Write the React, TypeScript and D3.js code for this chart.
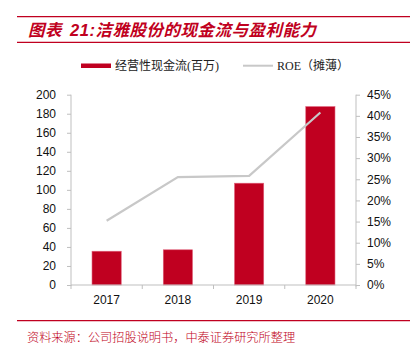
import React, { useEffect, useRef } from 'react';
import * as d3 from 'd3';

const years = ['2017', '2018', '2019', '2020'];
const cashFlow = [35.5, 37, 107, 187.5];
const roe = [15.2, 25.5, 25.8, 40.8];
const leftTicks = [0, 20, 40, 60, 80, 100, 120, 140, 160, 180, 200];
const rightTicks = [0, 5, 10, 15, 20, 25, 30, 35, 40, 45];

const titleText = '图表 21:洁雅股份的现金流与盈利能力';
const sourceText = '资料来源：公司招股说明书，中泰证券研究所整理';
const seriesNames = ['经营性现金流(百万)', 'ROE（摊薄）'];

const W = 415;
const H = 350;
const red = '#c00020';
const gray = '#c8c8c8';
const axisColor = '#bfbfbf';

export default function App() {
  const ref = useRef<SVGSVGElement>(null);

  useEffect(() => {
    document.body.style.margin = '0';
    const svg = d3.select(ref.current);
    svg.selectAll('*').remove();

    const m = { left: 71, right: 356, top: 94.7, bottom: 285 };

    const x = d3.scaleBand().domain(years).range([m.left, m.right]).paddingInner(0.59).paddingOuter(0.295);
    const xb = d3.scaleBand().domain(years).range([m.left, m.right]);
    const yL = d3.scaleLinear().domain([0, 200]).range([m.bottom, m.top]);
    const yR = d3.scaleLinear().domain([0, 45]).range([m.bottom, m.top]);

    // title
    svg.append('line').attr('x1', 17).attr('x2', 410).attr('y1', 16.7).attr('y2', 16.7)
      .attr('stroke', red).attr('stroke-width', 1.3);
    svg.append('line').attr('x1', 17).attr('x2', 410).attr('y1', 42.3).attr('y2', 42.3)
      .attr('stroke', red).attr('stroke-width', 1.3);
    svg.append('text').attr('x', 28).attr('y', 35.5)
      .attr('fill', red).attr('font-size', 16.5).attr('font-weight', 'bold').attr('font-style', 'italic')
      .attr('letter-spacing', 0.5).attr('word-spacing', 3)
      .attr('font-family', 'Arial, "Liberation Sans", "Noto Sans CJK SC", sans-serif')
      .text(titleText);

    // legend
    svg.append('rect').attr('x', 81).attr('y', 63.5).attr('width', 30).attr('height', 4.5).attr('fill', red);
    svg.append('text').attr('x', 115).attr('y', 70).attr('font-size', 12)
      .attr('font-family', '"Liberation Serif", "Noto Sans CJK SC", serif').attr('fill', '#222')
      .text(seriesNames[0]);
    svg.append('line').attr('x1', 243).attr('x2', 273).attr('y1', 65.7).attr('y2', 65.7)
      .attr('stroke', gray).attr('stroke-width', 2);
    svg.append('text').attr('x', 277).attr('y', 70).attr('font-size', 12)
      .attr('font-family', '"Liberation Serif", "Noto Sans CJK SC", serif').attr('fill', '#222')
      .text(seriesNames[1]);

    const tickFont = 'Arial, "Liberation Sans", sans-serif';

    // left axis
    const gl = svg.append('g').attr('transform', `translate(${m.left},0)`)
      .call(d3.axisLeft(yL).tickValues(leftTicks).tickSize(4).tickPadding(11));
    gl.select('.domain').attr('stroke', axisColor).attr('d', `M-0,${m.top}V${m.bottom + 1}`);
    gl.selectAll('.tick line').attr('stroke', axisColor);
    gl.selectAll('.tick text').attr('font-size', 12).attr('font-family', tickFont).attr('fill', '#111');

    // right axis
    const gr = svg.append('g').attr('transform', `translate(${m.right},0)`)
      .call(d3.axisRight(yR).tickValues(rightTicks).tickSize(4).tickPadding(7).tickFormat((d) => `${d}%`));
    gr.select('.domain').attr('stroke', axisColor).attr('d', `M0,${m.top}V${m.bottom + 1.5}`);
    gr.selectAll('.tick line').attr('stroke', axisColor);
    gr.selectAll('.tick text').attr('font-size', 12).attr('font-family', tickFont).attr('fill', '#111');

    // bars
    svg.append('g').selectAll('rect').data(cashFlow).enter().append('rect')
      .attr('x', (_, i) => x(years[i])!)
      .attr('width', x.bandwidth())
      .attr('y', (d) => yL(d))
      .attr('height', (d) => yL(0) - yL(d))
      .attr('fill', red).attr('stroke', '#e0607a').attr('stroke-width', 0.6);

    // bottom axis
    const gb = svg.append('g').attr('transform', `translate(0,${m.bottom})`);
    gb.append('line').attr('x1', m.left).attr('x2', m.right).attr('stroke', axisColor);
    const bounds = years.map((y) => xb(y)!).concat([m.right]);
    gb.selectAll('line.tk').data(bounds).enter().append('line').attr('class', 'tk')
      .attr('x1', (d) => d).attr('x2', (d) => d).attr('y1', 0).attr('y2', 4).attr('stroke', axisColor);
    gb.selectAll('text').data(years).enter().append('text')
      .attr('x', (d) => xb(d)! + xb.bandwidth() / 2).attr('y', 19)
      .attr('text-anchor', 'middle').attr('font-size', 12).attr('font-family', tickFont).attr('fill', '#111')
      .text((d) => d);

    // ROE line
    const line = d3.line<number>()
      .x((_, i) => xb(years[i])! + xb.bandwidth() / 2)
      .y((d) => yR(d));
    svg.append('path').datum(roe).attr('d', line).attr('fill', 'none')
      .attr('stroke', gray).attr('stroke-width', 2.2);

    // source
    svg.append('line').attr('x1', 17).attr('x2', 410).attr('y1', 320.7).attr('y2', 320.7)
      .attr('stroke', red).attr('stroke-width', 1.3);
    svg.append('text').attr('x', 27).attr('y', 341.5).attr('font-size', 12.2)
      .attr('font-family', '"Noto Sans CJK SC", sans-serif').attr('font-weight', 300).attr('fill', red)
      .text(sourceText);
  }, []);

  return <svg ref={ref} width={W} height={H} style={{ display: 'block', background: '#fff' }} />;
}
